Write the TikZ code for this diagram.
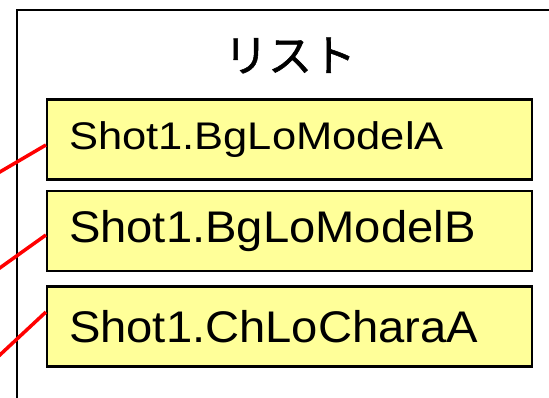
\documentclass[tikz,border=0pt]{standalone}
\usepackage{fontspec}
\setmainfont{Liberation Sans}
\newfontfamily\narrowtxt[FakeStretch=1.13]{Liberation Sans}
\newfontfamily\widetxt[FakeStretch=1.065]{Liberation Sans}
\newfontfamily\jpfont[FakeBold=1.2]{Noto Sans CJK JP}
\definecolor{boxyellow}{HTML}{FFFF99}
\definecolor{linkred}{HTML}{FF0000}
\begin{document}
\begin{tikzpicture}[x=1pt,y=-1pt,
  item/.style={draw=black, line width=2.2pt, fill=boxyellow, rectangle,
    minimum width=485pt, minimum height=80pt, inner xsep=22pt,
    text width=441pt, align=left},
  itemA/.style={item, font=\narrowtxt\fontsize{38.5}{44}\selectfont},
  itemB/.style={item, font=\widetxt\fontsize{44.3}{48}\selectfont},
  frame/.style={draw=black, line width=2pt},
  link/.style={draw=linkred, line width=3.5pt},
  title/.style={font=\jpfont\fontsize{44}{50}\selectfont, inner sep=0pt}]
\useasboundingbox (0,0) rectangle (549,397);
\clip (0,0) rectangle (549,397);
% outer frame (continues beyond the picture)
\draw[frame] (17.3,420) -- (17.3,9.5) -- (570,9.5);
\node[title] (t) at (290,55.5) {リスト};
\node[itemA] (b1) at (289.5,139.5) {Shot1.BgLoModelA};
\node[itemB] (b2) at (289.5,231) {Shot1.BgLoModelB};
\node[itemB] (b3) at (289.5,326.5) {Shot1.ChLoCharaA};
\coordinate (e1) at ([yshift=-5.5pt]b1.west);
\coordinate (e2) at ([yshift=-4pt]b2.west);
\coordinate (e3) at ([yshift=14.5pt]b3.west);
\coordinate (f1) at (-5,174.8);
\coordinate (f2) at (-5,271.4);
\coordinate (f3) at (-5,359.5);
\draw[link] (e1) -- (f1);
\draw[link] (e2) -- (f2);
\draw[link] (e3) -- (f3);
\end{tikzpicture}
\end{document}
